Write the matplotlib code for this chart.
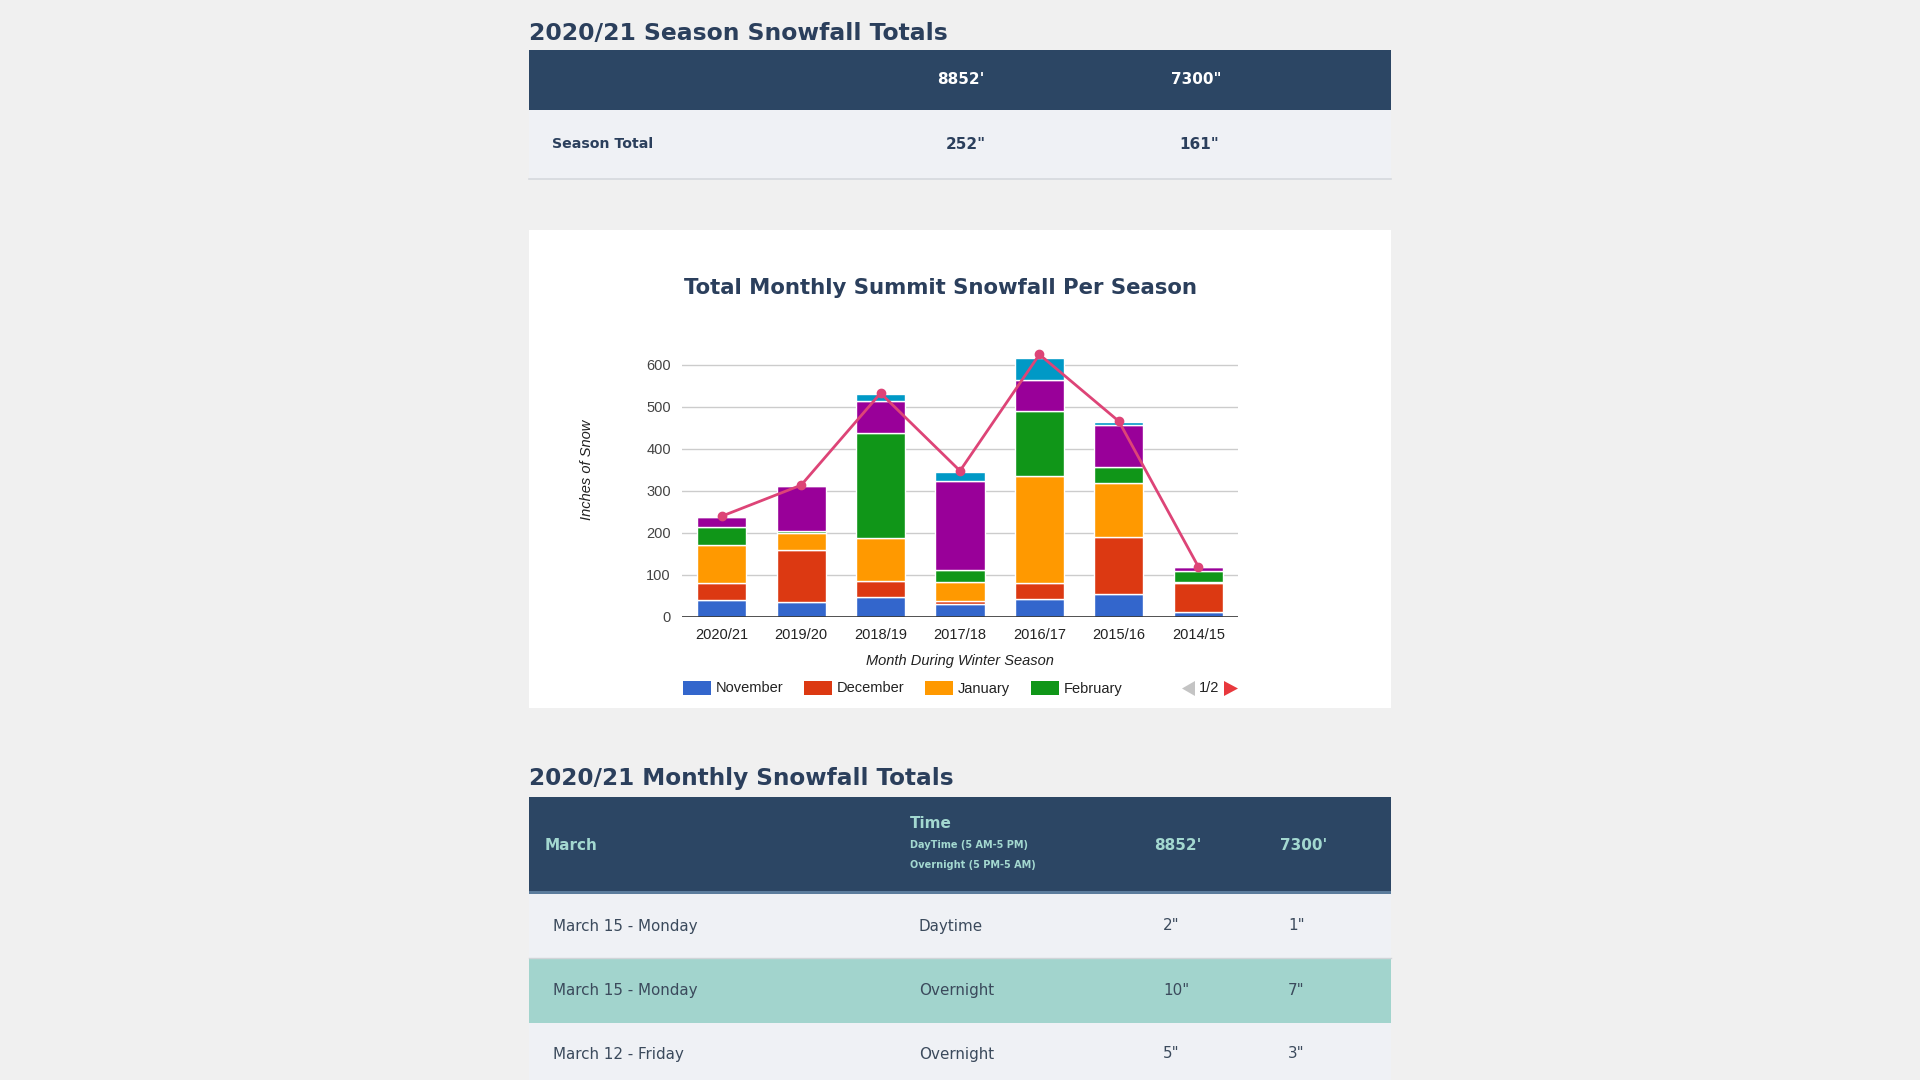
import numpy as np
import matplotlib
matplotlib.use('Agg')
import matplotlib.pyplot as plt
import matplotlib.patches as mpatches

# ---- data ----
seasons = ['2020/21', '2019/20', '2018/19', '2017/18', '2016/17', '2015/16', '2014/15']
november = [40, 35, 48, 30, 42, 55, 11]
december = [41, 124, 38, 7, 39, 135, 70]
january = [90, 41, 101, 46, 255, 128, 2]
february = [43, 4, 252, 29, 154, 39, 26]
march = [25, 109, 76, 211, 74, 99, 10]
april = [2, 2, 17, 23, 53, 9, 3]
season_total = [240, 314, 533, 348, 625, 466, 120]
y_ticks = [0, 100, 200, 300, 400, 500, 600]

months = ['November', 'December', 'January', 'February', 'March', 'April']
month_colors = ['#3366cc', '#dc3912', '#ff9900', '#109618', '#990099', '#0099c6']
line_color = '#dd4477'

# tables
t1_cols = ["8852'", '7300"']
t1_row = ['Season Total', '252"', '161"']
t2_cols = ['March', 'Time', "8852'", "7300'"]
t2_rows = [['March 15 - Monday', 'Daytime', '2"', '1"'],
           ['March 15 - Monday', 'Overnight', '10"', '7"'],
           ['March 12 - Friday', 'Overnight', '5"', '3"']]

navy = '#2c4664'
head_col = '#2b3f5c'
teal_txt = '#a3d8d0'
row_light = '#eff1f5'
row_teal = '#a2d4cd'
txt_row = '#3b4a5c'

W, H = 1920, 1080
fig = plt.figure(figsize=(W / 100, H / 100), dpi=100)
fig.patch.set_facecolor('#f0f0f0')

# full-figure axes in pixel units, y downward
bg = fig.add_axes([0, 0, 1, 1])
bg.set_xlim(0, W)
bg.set_ylim(H, 0)
bg.axis('off')

def rect(x0, y0, x1, y1, color, z=1):
    bg.add_patch(mpatches.Rectangle((x0, y0), x1 - x0, y1 - y0, color=color, lw=0, zorder=z))

L, R = 529, 1391

#%% table 1
bg.text(L, 33, '2020/21 Season Snowfall Totals', fontsize=16.9, fontweight='heavy',
        color=head_col, va='center', ha='left')
rect(L, 50, R, 110, navy)
rect(L, 110, R, 179, row_light)
bg.plot([L, R], [179, 179], color='#d5d8dd', lw=1.2, zorder=2)
bg.text(961, 80, t1_cols[0], fontsize=11, fontweight='bold', color='white', ha='center', va='center')
bg.text(1196, 80, t1_cols[1], fontsize=11, fontweight='bold', color='white', ha='center', va='center')
bg.text(552, 144.5, t1_row[0], fontsize=10.2, color=head_col, ha='left', va='center', fontweight='bold')
bg.text(966, 144.5, t1_row[1], fontsize=11, color=head_col, ha='center', va='center', fontweight='bold')
bg.text(1199, 144.5, t1_row[2], fontsize=11, color=head_col, ha='center', va='center', fontweight='bold')

#%% chart card
rect(L, 230, R, 708, 'white')
bg.text(940, 288, 'Total Monthly Summit Snowfall Per Season', fontsize=15.3, fontweight='bold',
        color=head_col, ha='center', va='center')

px_left, px_right, px_base = 682, 1238, 617
scale = 252 / 600.0
ytop = 640
ax = fig.add_axes([px_left / W, (H - px_base) / H, (px_right - px_left) / W, ytop * scale / H])
ax.set_facecolor('none')
x = np.arange(len(seasons))
bottom = np.zeros(len(seasons))
for vals, col in zip([november, december, january, february, march, april], month_colors):
    ax.bar(x, vals, width=0.62, bottom=bottom, color=col, edgecolor='white', linewidth=1.0, zorder=3)
    bottom += np.array(vals)
ax.plot(x, season_total, color=line_color, lw=2, marker='o', ms=6, zorder=5)
ax.set_xlim(-0.5, len(seasons) - 0.5)
ax.set_ylim(0, ytop)
for t in y_ticks[1:]:
    ax.axhline(t, color='#cccccc', lw=1, zorder=1)
ax.axhline(0, color='#333333', lw=1.2, zorder=4)
for s in ax.spines.values():
    s.set_visible(False)
ax.set_yticks(y_ticks)
ax.set_xticks(x)
ax.set_xticklabels(seasons, fontsize=10.5, color='#222222', family='Liberation Sans')
ax.set_yticklabels([str(v) for v in y_ticks], fontsize=10.5, color='#444444', family='Liberation Sans')
ax.tick_params(length=0, pad=8)

bg.text(960, 661, 'Month During Winter Season', fontsize=10.5, style='italic', color='#222222',
        ha='center', va='center', family='Liberation Sans')
bg.text(587, 470, 'Inches of Snow', fontsize=10.5, style='italic', color='#222222', rotation=90,
        ha='center', va='center', family='Liberation Sans')

# legend (page 1 of 2)
leg_x = [683, 804, 925, 1031]
for lx, name, col in zip(leg_x, months[:4], month_colors[:4]):
    rect(lx, 681, lx + 28, 695, col)
    bg.text(lx + 33, 688.5, name, fontsize=10.5, color='#222222', ha='left', va='center',
            family='Liberation Sans')
bg.add_patch(mpatches.Polygon([[1195, 681], [1195, 696], [1182, 688.5]], color='#c4c4c4', lw=0))
bg.text(1209, 688.5, '1/2', fontsize=10.5, color='#222222', ha='center', va='center', family='Liberation Sans')
bg.add_patch(mpatches.Polygon([[1224, 681], [1224, 696], [1238, 688.5]], color='#e8383d', lw=0))

#%% table 2
bg.text(L, 779, '2020/21 Monthly Snowfall Totals', fontsize=16.7, fontweight='heavy',
        color=head_col, va='center', ha='left')
rect(L, 797, R, 893, navy)
rect(L, 891, R, 894, '#5b7c9c', z=2)
bg.text(545, 845, t2_cols[0], fontsize=11, fontweight='bold', color=teal_txt, ha='left', va='center')
bg.text(910, 823, t2_cols[1], fontsize=11, fontweight='bold', color=teal_txt, ha='left', va='center')
bg.text(910, 845, 'DayTime (5 AM-5 PM)', fontsize=7, fontweight='bold', color=teal_txt, ha='left', va='center')
bg.text(910, 865, 'Overnight (5 PM-5 AM)', fontsize=7, fontweight='bold', color=teal_txt, ha='left', va='center')
bg.text(1178, 845, t2_cols[2], fontsize=11, fontweight='bold', color=teal_txt, ha='center', va='center')
bg.text(1304, 845, t2_cols[3], fontsize=11, fontweight='bold', color=teal_txt, ha='center', va='center')

row_y = [(894, 958), (958, 1023), (1023, 1090)]
row_bg = [row_light, row_teal, row_light]
col_x = [553, 919, 1163, 1288]
for (y0, y1), rc, row in zip(row_y, row_bg, t2_rows):
    rect(L, y0, R, y1, rc)
    yc = (y0 + y1) / 2 if y1 < H else 1054
    for cx, val in zip(col_x, row):
        bg.text(cx, yc, val, fontsize=10.9, color=txt_row, ha='left', va='center')
bg.plot([L, R], [958, 958], color='#d0d4d8', lw=1, zorder=2)

fig.savefig('out.png', dpi=100, facecolor=fig.get_facecolor())
